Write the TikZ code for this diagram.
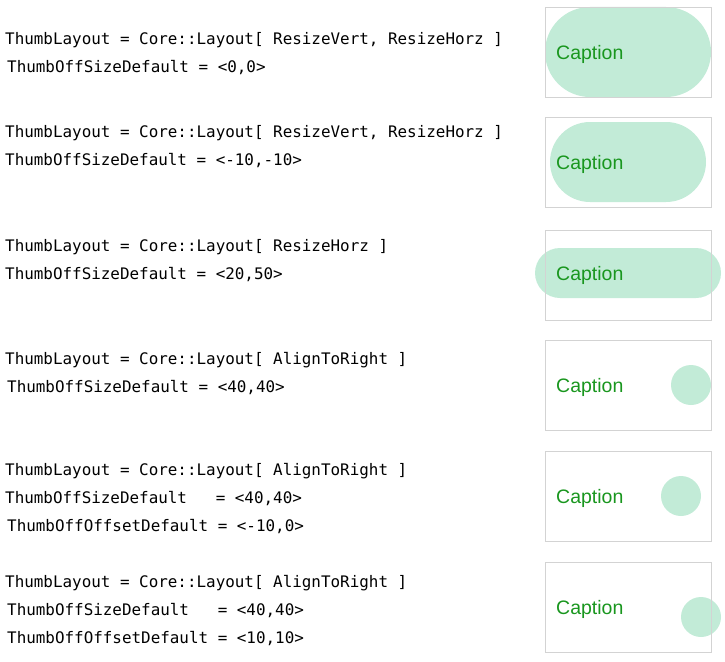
\documentclass[tikz,border=0pt]{standalone}
\usepackage{fontspec}
\setmainfont{Liberation Sans}
\newfontfamily\codefont{DejaVu Sans Mono}
\definecolor{thumbfill}{RGB}{194,235,215}
\definecolor{capgreen}{RGB}{25,150,30}
\definecolor{boxgray}{RGB}{211,211,211}
\begin{document}
\begin{tikzpicture}[x=1pt,y=-1pt,
  codeline/.style={anchor=west,inner sep=0pt,yshift=-2pt,font=\codefont\fontsize{15.9}{16}\selectfont},
  captext/.style={anchor=west,inner sep=0pt,yshift=-2pt,text=capgreen,font=\fontsize{19.5}{20}\selectfont},
  boxframe/.style={draw=boxgray,line width=1pt,minimum width=166pt,minimum height=90pt,inner sep=0pt,anchor=north west},
  thumb/.style={fill=thumbfill}]
\useasboundingbox (0,0) rectangle (725,661);
% group 1
\node[codeline] (a1) at (5,38) {ThumbLayout = Core::Layout[ ResizeVert, ResizeHorz ]};
\node[codeline] (a2) at (7,66) {ThumbOffSizeDefault = <0,0>};
\fill[thumb,rounded corners=45pt] (545,7) rectangle (711,97);
\node[boxframe] (b1) at (545,7) {};
\node[captext] (c1) at (556,52) {Caption};
% group 2
\node[codeline] (d1) at (5,131) {ThumbLayout = Core::Layout[ ResizeVert, ResizeHorz ]};
\node[codeline] (d2) at (5,159) {ThumbOffSizeDefault = <-10,-10>};
\fill[thumb,rounded corners=40pt] (550,122) rectangle (706,202);
\node[boxframe] (b2) at (545,117) {};
\node[captext] (c2) at (556,162) {Caption};
% group 3
\node[codeline] (e1) at (5,245) {ThumbLayout = Core::Layout[ ResizeHorz ]};
\node[codeline] (e2) at (5,273) {ThumbOffSizeDefault = <20,50>};
\fill[thumb,rounded corners=25pt] (535,248) rectangle (721,298);
\node[boxframe] (b3) at (545,230) {};
\node[captext] (c3) at (556,273) {Caption};
% group 4
\node[codeline] (f1) at (5,358) {ThumbLayout = Core::Layout[ AlignToRight ]};
\node[codeline] (f2) at (7,386) {ThumbOffSizeDefault = <40,40>};
\fill[thumb] (691,385) circle[radius=20];
\node[boxframe] (b4) at (545,340) {};
\node[captext] (c4) at (556,385) {Caption};
% group 5
\node[codeline] (g1) at (5,469) {ThumbLayout = Core::Layout[ AlignToRight ]};
\node[codeline] (g2) at (5,497) {ThumbOffSizeDefault\ \ \ = <40,40>};
\node[codeline] (g3) at (7,525) {ThumbOffOffsetDefault = <-10,0>};
\fill[thumb] (681,496) circle[radius=20];
\node[boxframe] (b5) at (545,451) {};
\node[captext] (c5) at (556,496) {Caption};
% group 6
\node[codeline] (h1) at (5,581) {ThumbLayout = Core::Layout[ AlignToRight ]};
\node[codeline] (h2) at (7,609) {ThumbOffSizeDefault\ \ \ = <40,40>};
\node[codeline] (h3) at (7,637) {ThumbOffOffsetDefault = <10,10>};
\fill[thumb] (701,617) circle[radius=20];
\node[boxframe] (b6) at (545,562) {};
\node[captext] (c6) at (556,607) {Caption};
\end{tikzpicture}
\end{document}
